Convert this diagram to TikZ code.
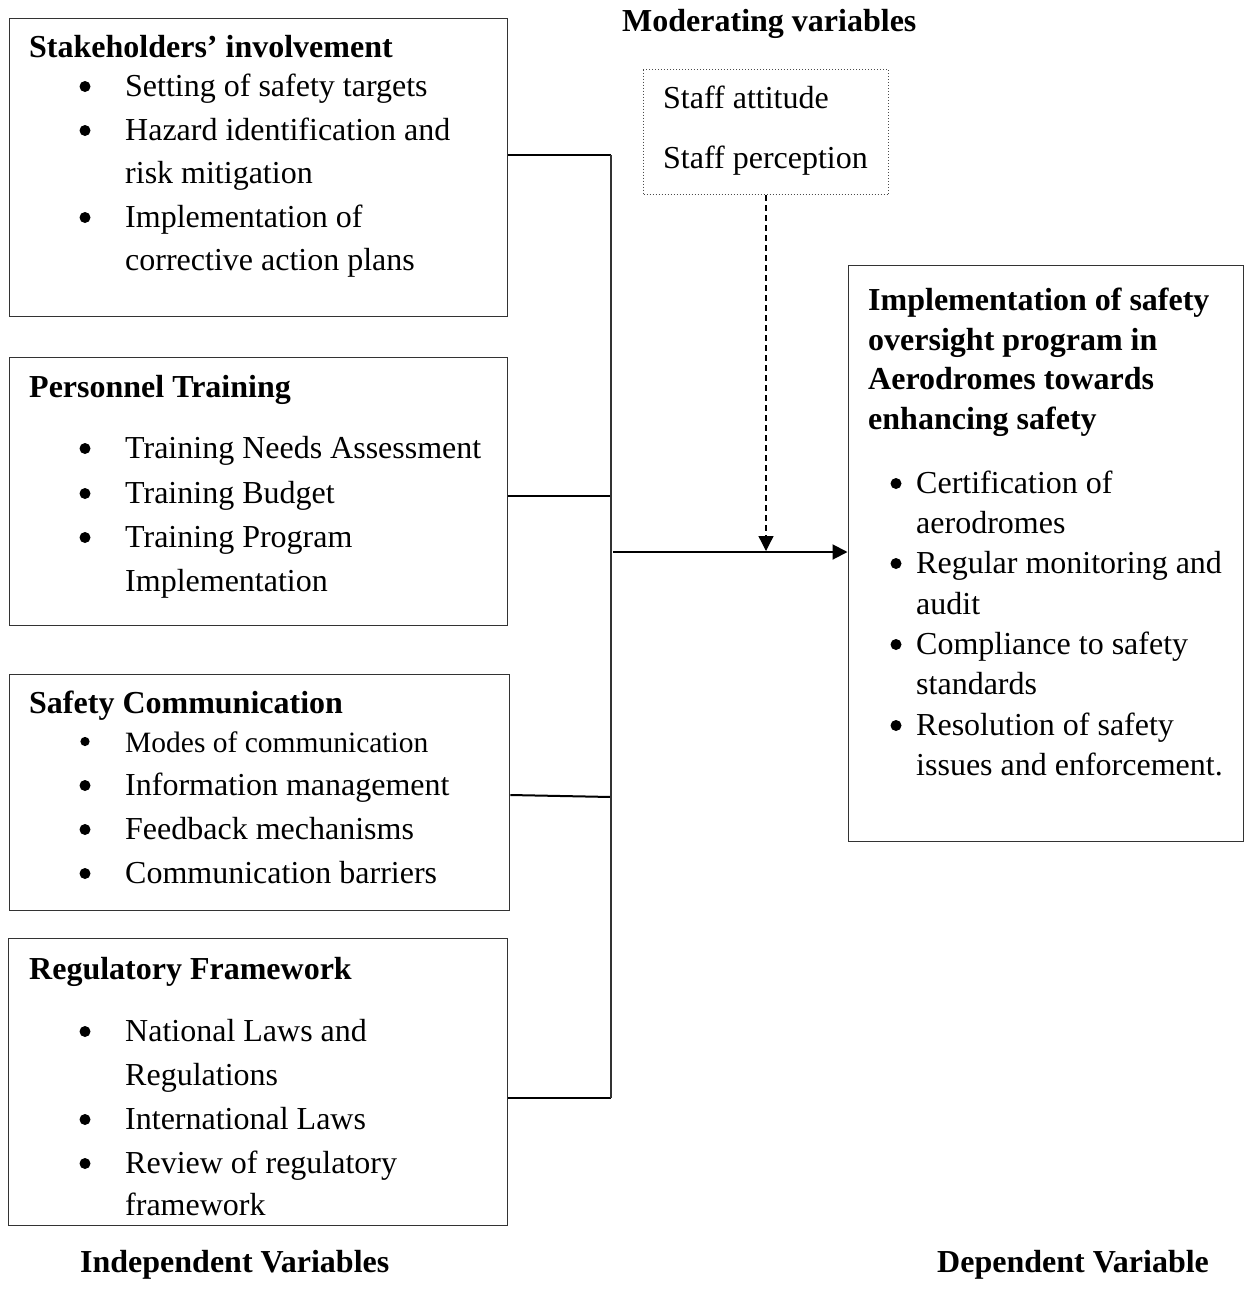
\documentclass[tikz,border=0pt]{standalone}
\usepackage{fontspec}
\setmainfont{Liberation Serif}
\usetikzlibrary{arrows.meta}
\newcommand\bul[3][5.5]{\fill (#2,#3-9.5) circle (#1pt);}
\begin{document}
\begin{tikzpicture}[x=1pt,y=-1pt,
  box/.style={draw=black!80, line width=1.4pt, inner sep=0pt, anchor=north west},
  modbox/.style={draw=black!70, line width=1pt, dotted, inner sep=0pt, anchor=north west},
  txt/.style={anchor=base west, inner sep=0pt, font=\fontsize{32}{40}\selectfont},
  small/.style={anchor=base west, inner sep=0pt, font=\fontsize{29.5}{36}\selectfont},
  hd/.style={anchor=base west, inner sep=0pt, font=\fontsize{32}{40}\selectfont\bfseries},
  conn/.style={line width=2pt, draw=black},
  tip/.style={-{Triangle[length=15pt,width=15pt]}},
]
\useasboundingbox (0,0) rectangle (1243,1291);

% boxes
\node[box, minimum width=498.5pt, minimum height=298pt] (b1) at (8.5,18) {};
\node[box, minimum width=498pt, minimum height=268pt] (b2) at (9,357) {};
\node[box, minimum width=500pt, minimum height=236pt] (b3) at (9,674) {};
\node[box, minimum width=499pt, minimum height=287pt] (b4) at (8,938) {};
\node[box, minimum width=395pt, minimum height=576pt] (rb) at (847.5,265) {};
\node[modbox, minimum width=245pt, minimum height=125pt] (mod) at (643,69) {};

% headings
\node[hd] (modh) at (622,31) {Moderating variables};
\node[hd] (h1) at (29,57) {Stakeholders’ involvement};
\node[hd] (h2) at (29,397) {Personnel Training};
\node[hd] (h3) at (29,713) {Safety Communication};
\node[hd] (h4) at (29,979) {Regulatory Framework};
\node[hd] (hr1) at (868,310) {Implementation of safety};
\node[hd] (hr2) at (868,350) {oversight program in};
\node[hd] (hr3) at (868,389) {Aerodromes towards};
\node[hd] (hr4) at (868,429) {enhancing safety};
\node[hd] (indep) at (80,1272) {Independent Variables};
\node[hd] (dep) at (937,1272) {Dependent Variable};

% moderating
\node[txt] (m1) at (663,108) {Staff attitude};
\node[txt] (m2) at (663,168) {Staff perception};

% box 1
\bul{85}{96}\node[txt] (s1) at (125,96) {Setting of safety targets};
\bul{85}{140}\node[txt] (s2) at (125,140) {Hazard identification and};
\node[txt] (s2b) at (125,183) {risk mitigation};
\bul{85}{227}\node[txt] (s3) at (125,227) {Implementation of};
\node[txt] (s3b) at (125,270) {corrective action plans};

% box 2
\bul{85}{458}\node[txt] (p1) at (125,458) {Training Needs Assessment};
\bul{85}{503}\node[txt] (p2) at (125,503) {Training Budget};
\bul{85}{547}\node[txt] (p3) at (125,547) {Training Program};
\node[txt] (p3b) at (125,591) {Implementation};

% box 3
\bul[4.6]{85}{751}\node[small] (c1) at (125,752) {Modes of communication};
\bul{85}{795}\node[txt] (c2) at (125,795) {Information management};
\bul{85}{839}\node[txt] (c3) at (125,839) {Feedback mechanisms};
\bul{85}{883}\node[txt] (c4) at (125,883) {Communication barriers};

% box 4
\bul{85}{1041}\node[txt] (r1) at (125,1041) {National Laws and};
\node[txt] (r1b) at (125,1085) {Regulations};
\bul{85}{1129}\node[txt] (r2) at (125,1129) {International Laws};
\bul{85}{1173}\node[txt] (r3) at (125,1173) {Review of regulatory};
\node[txt] (r3b) at (125,1215) {framework};

% right box
\bul{896}{493}\node[txt] (d1) at (916,493) {Certification of};
\node[txt] (d1b) at (916,533) {aerodromes};
\bul{896}{573}\node[txt] (d2) at (916,573) {Regular monitoring and};
\node[txt] (d2b) at (916,614) {audit};
\bul{896}{654}\node[txt] (d3) at (916,654) {Compliance to safety};
\node[txt] (d3b) at (916,694) {standards};
\bul{896}{735}\node[txt] (d4) at (916,735) {Resolution of safety};
\node[txt] (d4b) at (916,775) {issues and enforcement.};

% connectors
\coordinate (t1) at (611,155);
\coordinate (t2) at (611,496);
\coordinate (t3) at (611,797);
\coordinate (t4) at (611,1098);
\coordinate (a0) at (613,552);
\draw[conn] (b1.east |- t1) -- (t1);
\draw[conn] (b2.east |- t2) -- (t2);
\draw[conn] (b3.east |- 0,795) -- (t3);
\draw[conn] (b4.east |- t4) -- (t4);
\draw[line width=1.4pt, draw=black!80] (t1) -- (t4);
\draw[conn, tip] (a0) -- (rb.west |- a0);
\draw[line width=1.3pt, dash pattern=on 6pt off 4pt, -{Triangle[length=15pt,width=15pt]}] (mod.south) -- (mod.south |- 0,551);
\end{tikzpicture}
\end{document}
